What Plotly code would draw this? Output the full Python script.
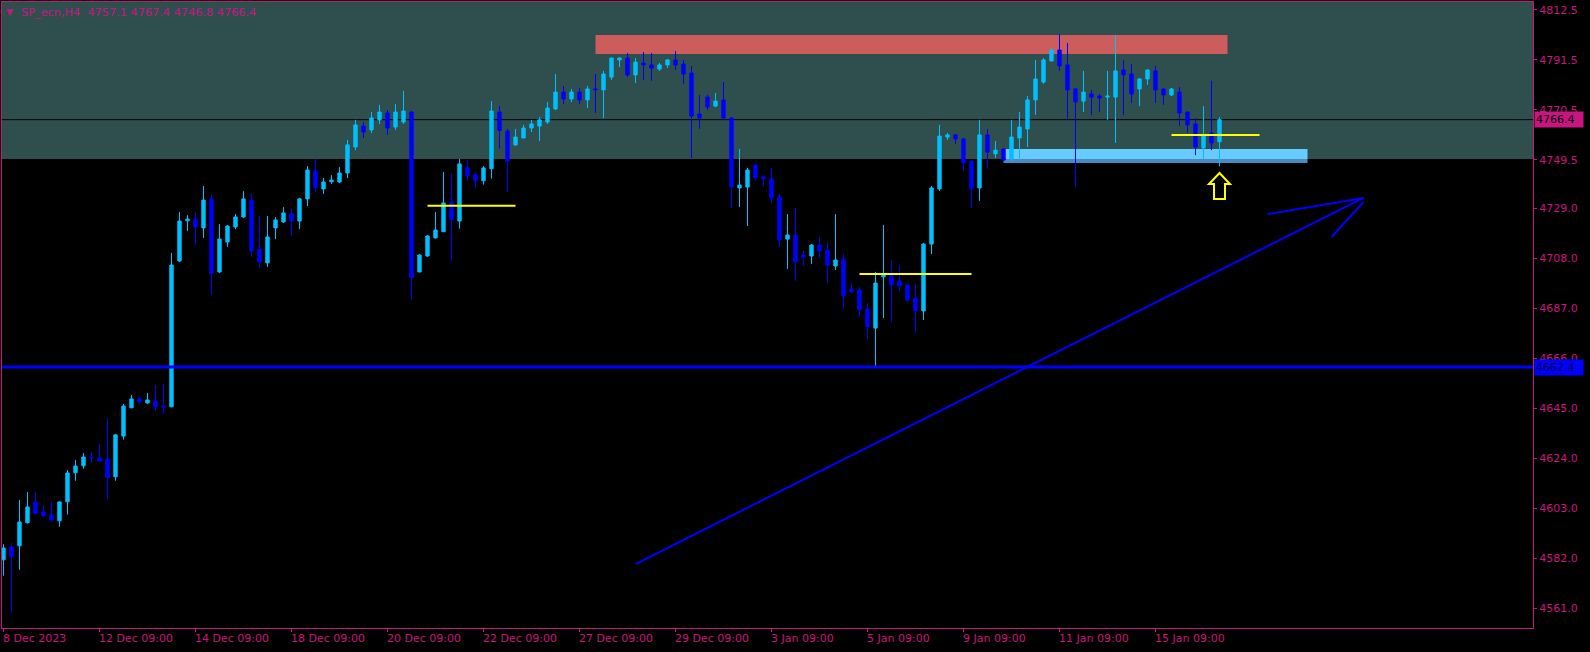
import plotly.graph_objects as go

# ---------------- data (H4 bars, index = bar number) ----------------
bars = list(range(153))

opens = [4581.4, 4586.8, 4587.3, 4597.0, 4605.7, 4601.5, 4600.2, 4597.8, 4605.8, 4618.0,
         4620.9, 4624.6, 4624.2, 4623.8, 4616.3, 4633.4, 4645.3, 4649.0, 4647.3, 4648.1,
         4646.0, 4645.7, 4707.0, 4723.9, 4724.6, 4720.9, 4733.1, 4702.4, 4715.0, 4721.3,
         4725.5, 4732.6, 4712.0, 4706.2, 4720.9, 4723.4, 4726.8, 4723.8, 4733.1, 4744.8,
         4737.3, 4740.3, 4740.2, 4744.0, 4754.9, 4763.7, 4762.1, 4766.3, 4769.2, 4763.3,
         4765.4, 4769.6, 4702.4, 4709.1, 4716.7, 4719.3, 4731.8, 4723.8, 4746.1, 4743.1,
         4740.7, 4745.8, 4769.6, 4761.6, 4755.8, 4758.7, 4762.9, 4763.7, 4765.4, 4770.9,
         4778.0, 4775.1, 4778.0, 4774.7, 4779.3, 4778.9, 4784.3, 4791.5, 4792.3, 4785.2,
         4790.2, 4789.4, 4787.7, 4789.4, 4791.5, 4789.8, 4786.0, 4768.8, 4775.9, 4772.1,
         4774.7, 4767.1, 4737.7, 4738.1, 4747.3, 4742.3, 4741.5, 4733.9, 4716.2, 4717.9,
         4709.5, 4709.1, 4713.7, 4711.6, 4704.9, 4707.8, 4695.2, 4694.8, 4686.8, 4678.8,
         4700.3, 4701.1, 4698.6, 4696.9, 4691.4, 4686.0, 4714.1, 4737.3, 4759.1, 4760.0,
         4758.3, 4749.0, 4737.7, 4760.0, 4752.0, 4754.1, 4749.9, 4758.7, 4762.5, 4774.7,
         4782.2, 4791.1, 4795.7, 4789.4, 4779.3, 4774.2, 4777.2, 4776.3, 4775.9, 4775.9,
         4787.3, 4785.6, 4779.3, 4783.5, 4786.9, 4779.3, 4776.8, 4778.0, 4769.6, 4764.6,
         4754.5, 4760.8, 4757.1]

highs = [4588.0, 4588.4, 4606.5, 4609.9, 4609.9, 4604.4, 4605.7, 4605.9, 4619.1, 4623.3,
         4626.3, 4626.7, 4630.1, 4641.0, 4634.3, 4646.9, 4650.7, 4650.2, 4651.5, 4654.9,
         4655.3, 4710.4, 4727.6, 4726.3, 4727.6, 4738.5, 4734.7, 4722.5, 4722.1, 4726.7,
         4736.4, 4735.2, 4725.9, 4725.9, 4725.5, 4729.7, 4728.9, 4733.5, 4746.9, 4749.9,
         4741.9, 4743.1, 4746.5, 4757.9, 4766.3, 4765.4, 4769.6, 4772.6, 4770.5, 4773.0,
         4778.5, 4770.0, 4709.9, 4717.9, 4727.6, 4744.4, 4743.6, 4749.9, 4749.4, 4744.4,
         4746.9, 4774.2, 4772.1, 4762.5, 4762.5, 4764.2, 4766.3, 4767.5, 4773.8, 4785.6,
         4780.6, 4779.3, 4779.7, 4780.6, 4785.6, 4786.9, 4792.4, 4792.7, 4794.4, 4792.3,
         4794.8, 4794.4, 4790.2, 4791.9, 4795.3, 4791.5, 4789.0, 4776.8, 4776.8, 4777.6,
         4782.2, 4767.5, 4754.1, 4746.1, 4747.8, 4743.1, 4746.1, 4735.2, 4726.7, 4729.3,
         4711.2, 4714.1, 4717.1, 4715.0, 4726.7, 4709.9, 4697.7, 4696.1, 4689.3, 4702.4,
         4722.1, 4707.4, 4705.3, 4697.0, 4697.3, 4714.6, 4738.5, 4764.2, 4760.8, 4760.4,
         4758.7, 4749.4, 4766.3, 4762.5, 4757.4, 4754.2, 4766.3, 4769.6, 4776.3, 4791.5,
         4792.3, 4796.5, 4802.4, 4798.6, 4779.7, 4786.9, 4778.9, 4777.2, 4786.9, 4802.0,
         4791.5, 4789.8, 4783.9, 4787.5, 4789.0, 4779.5, 4779.7, 4780.1, 4769.8, 4767.1,
         4772.1, 4782.7, 4767.4]

lows = [4574.7, 4559.0, 4577.2, 4596.6, 4600.5, 4599.1, 4597.4, 4595.3, 4600.4, 4614.6,
        4619.7, 4622.2, 4622.6, 4607.1, 4614.6, 4631.9, 4645.1, 4647.0, 4647.0, 4644.1,
        4642.8, 4645.5, 4706.6, 4719.6, 4713.7, 4716.7, 4692.7, 4701.9, 4712.9, 4720.4,
        4725.1, 4708.7, 4704.1, 4704.5, 4716.2, 4723.0, 4717.5, 4720.4, 4730.1, 4735.6,
        4735.2, 4739.4, 4739.8, 4741.9, 4753.6, 4758.7, 4760.8, 4764.6, 4760.0, 4762.1,
        4764.6, 4690.7, 4702.2, 4708.7, 4716.4, 4719.2, 4707.1, 4720.6, 4740.7, 4737.8,
        4739.1, 4741.6, 4754.2, 4736.1, 4755.3, 4758.6, 4761.2, 4757.4, 4764.6, 4770.5,
        4773.0, 4773.8, 4773.0, 4771.3, 4769.2, 4767.1, 4783.1, 4788.5, 4784.3, 4781.8,
        4783.1, 4782.7, 4786.9, 4788.1, 4787.3, 4781.4, 4750.3, 4762.5, 4770.5, 4771.7,
        4766.3, 4729.3, 4729.7, 4721.7, 4741.0, 4738.5, 4731.4, 4712.9, 4703.6, 4698.6,
        4704.9, 4705.7, 4708.3, 4697.7, 4703.2, 4686.8, 4693.5, 4683.5, 4674.2, 4662.5,
        4683.0, 4681.3, 4694.4, 4689.8, 4676.7, 4682.2, 4709.9, 4736.4, 4757.9, 4756.2,
        4744.8, 4729.3, 4732.2, 4745.7, 4750.3, 4749.2, 4749.0, 4749.4, 4754.9, 4768.4,
        4781.4, 4790.9, 4786.9, 4766.7, 4738.1, 4769.6, 4768.4, 4769.6, 4766.3, 4756.6,
        4768.4, 4773.4, 4772.1, 4781.0, 4773.4, 4772.6, 4776.3, 4763.7, 4760.8, 4751.5,
        4749.9, 4753.6, 4746.8]

closes = [4586.3, 4582.7, 4597.3, 4603.6, 4600.8, 4599.9, 4598.2, 4605.7, 4617.9, 4620.8,
          4624.6, 4624.3, 4622.9, 4615.9, 4633.9, 4646.0, 4649.0, 4647.8, 4648.6, 4645.7,
          4645.7, 4705.3, 4723.8, 4724.6, 4721.3, 4732.6, 4701.9, 4716.2, 4721.7, 4725.5,
          4733.1, 4711.2, 4706.6, 4717.1, 4724.2, 4727.2, 4723.8, 4733.1, 4745.2, 4737.8,
          4740.2, 4741.0, 4744.0, 4755.8, 4764.2, 4761.2, 4767.1, 4769.6, 4762.9, 4769.6,
          4770.0, 4700.0, 4709.5, 4717.5, 4720.0, 4731.4, 4724.3, 4747.8, 4742.8, 4740.7,
          4746.1, 4770.0, 4761.8, 4749.0, 4759.1, 4762.9, 4764.6, 4766.3, 4771.3, 4778.0,
          4775.1, 4778.0, 4774.7, 4779.3, 4779.0, 4785.6, 4792.3, 4792.3, 4785.2, 4790.6,
          4789.4, 4788.1, 4789.4, 4791.5, 4789.4, 4785.6, 4767.9, 4767.1, 4771.7, 4774.2,
          4767.1, 4738.1, 4738.9, 4745.2, 4741.9, 4741.5, 4733.5, 4715.8, 4717.9, 4706.6,
          4708.7, 4713.7, 4711.2, 4705.3, 4707.4, 4692.3, 4694.0, 4686.4, 4679.3, 4697.7,
          4701.5, 4696.9, 4696.5, 4690.6, 4686.0, 4714.1, 4737.7, 4759.5, 4760.0, 4758.3,
          4748.2, 4737.3, 4760.0, 4752.8, 4753.6, 4749.4, 4759.1, 4763.3, 4774.7, 4783.5,
          4791.5, 4795.7, 4789.0, 4778.9, 4773.8, 4778.0, 4775.9, 4775.5, 4776.3, 4786.9,
          4785.2, 4777.2, 4783.5, 4787.3, 4778.9, 4776.8, 4779.3, 4769.2, 4764.2, 4754.9,
          4760.0, 4756.6, 4766.4]

label_bars = [0, 12, 24, 36, 48, 60, 72, 84, 96, 108, 120, 132, 144]
label_texts = ["8 Dec 2023", "12 Dec 09:00", "14 Dec 09:00", "18 Dec 09:00", "20 Dec 09:00",
               "22 Dec 09:00", "27 Dec 09:00", "29 Dec 09:00", "3 Jan 09:00", "5 Jan 09:00",
               "9 Jan 09:00", "11 Jan 09:00", "15 Jan 09:00"]

price_ticks = [4812.5, 4791.5, 4770.5, 4749.5, 4729.0, 4708.0, 4687.0,
               4666.0, 4645.0, 4624.0, 4603.0, 4582.0, 4561.0]

symbol_title = "SP_ecn,H4  4757.1 4767.4 4746.8 4766.4"
bid_price = 4766.4
level_price = 4662.4

# drawn objects (bar index / price)
zone_low = 4749.9
supply_box = dict(x0=74, x1=153, y0=4794.0, y1=4802.0)
demand_box = dict(x0=125, x1=163, y0=4748.2, y1=4754.1)
yellow_levels = [(53, 64, 4730.2), (107, 121, 4701.5), (146, 157, 4760.0)]
trend_lines = [(79, 4579.6, 170, 4733.5), (158, 4726.7, 170, 4733.5), (166, 4717.1, 170, 4731.8)]
arrow_bar, arrow_price = 152, 4744.0

# ---------------- figure ----------------
MAG = "#C8157F"
FONT = "DejaVu Sans"

fig = go.Figure(go.Candlestick(
    x=bars, open=opens, high=highs, low=lows, close=closes,
    increasing=dict(line=dict(color="#00BFFF", width=1), fillcolor="#00BFFF"),
    decreasing=dict(line=dict(color="#0000FF", width=1), fillcolor="#0000FF"),
    whiskerwidth=0, hoverinfo="skip", showlegend=False))

shapes = []
# dark slate zone
shapes.append(dict(type="rect", xref="paper", x0=0, x1=1, yref="y", y0=zone_low, y1=4815.86,
                   fillcolor="#2F4F4F", line=dict(width=0), layer="below"))
# supply (red) box
shapes.append(dict(type="rect", xref="x", yref="y", **supply_box,
                   fillcolor="#CD5C5C", line=dict(width=0), layer="below"))
# demand (light blue) box, split on the zone edge
shapes.append(dict(type="rect", xref="x", yref="y", x0=demand_box["x0"], x1=demand_box["x1"],
                   y0=zone_low, y1=demand_box["y1"],
                   fillcolor="#66CCFF", line=dict(width=0), layer="below"))
shapes.append(dict(type="rect", xref="x", yref="y", x0=demand_box["x0"], x1=demand_box["x1"],
                   y0=demand_box["y0"], y1=zone_low,
                   fillcolor="#4A8AC0", line=dict(width=0), layer="below"))
# bid line
shapes.append(dict(type="line", xref="paper", x0=0, x1=1, yref="y", y0=bid_price, y1=bid_price,
                   line=dict(color="black", width=1), layer="below"))
# horizontal level
shapes.append(dict(type="line", xref="paper", x0=0, x1=1, yref="y", y0=level_price, y1=level_price,
                   line=dict(color="#0000FF", width=3), layer="above"))
for x0, x1, y in yellow_levels:
    shapes.append(dict(type="line", xref="x", yref="y", x0=x0, x1=x1, y0=y, y1=y,
                       line=dict(color="#FFFF00", width=2), layer="above"))
for x0, y0, x1, y1 in trend_lines:
    shapes.append(dict(type="line", xref="x", yref="y", x0=x0, y0=y0, x1=x1, y1=y1,
                       line=dict(color="#0000FF", width=2), layer="above"))
# up arrow (pixel sized, anchored at bar/price)
shapes.append(dict(type="path", xref="x", yref="y", xsizemode="pixel", ysizemode="pixel",
                   xanchor=arrow_bar, yanchor=arrow_price,
                   path="M 0 0 L 10.5 -11 L 5.5 -11 L 5.5 -26 L -5.5 -26 L -5.5 -11 L -10.5 -11 Z",
                   fillcolor="black", line=dict(color="#FFFF00", width=2), layer="above"))

annotations = []
for b, t in zip(label_bars, label_texts):
    annotations.append(dict(x=b, xref="x", y=0, yref="paper", text=t, showarrow=False,
                            xanchor="left", yanchor="top", xshift=-3, yshift=-2,
                            font=dict(family=FONT, size=11, color=MAG)))
annotations.append(dict(x=0, xref="paper", y=1, yref="paper", text="▼", showarrow=False,
                        xanchor="left", yanchor="top", xshift=2, yshift=-3,
                        font=dict(family=FONT, size=9, color=MAG)))
annotations.append(dict(x=0, xref="paper", y=1, yref="paper", text=symbol_title, showarrow=False,
                        xanchor="left", yanchor="top", xshift=17, yshift=-2,
                        font=dict(family=FONT, size=11.3, color=MAG)))
annotations.append(dict(x=1, xref="paper", y=bid_price, yref="y", text=f"{bid_price:.1f}",
                        showarrow=False, xanchor="left", xshift=1, bgcolor=MAG, width=46, height=13,
                        align="left", font=dict(family=FONT, size=11, color="black")))
annotations.append(dict(x=1, xref="paper", y=level_price, yref="y", text=f"{level_price:.1f}",
                        showarrow=False, xanchor="left", xshift=1, bgcolor="#0000FF", width=46, height=13,
                        align="left", font=dict(family=FONT, size=11, color="#000040")))

fig.update_layout(
    width=1590, height=652,
    margin=dict(l=2, r=57, t=2, b=24, pad=0),
    paper_bgcolor="black", plot_bgcolor="black",
    boxgap=0.4,
    showlegend=False,
    shapes=shapes, annotations=annotations,
    xaxis=dict(range=[-0.1875, 191.1875], showgrid=False, zeroline=False,
               rangeslider=dict(visible=False), showline=True, linecolor=MAG, linewidth=1,
               mirror=True, ticks="outside", ticklen=3, tickcolor=MAG,
               tickvals=label_bars, showticklabels=False, fixedrange=True),
    yaxis=dict(side="right", range=[4552.72, 4815.86], showgrid=False, zeroline=False,
               showline=True, linecolor=MAG, linewidth=1, mirror=True,
               ticks="outside", ticklen=3, tickcolor=MAG,
               tickvals=price_ticks, ticktext=[f"{v:.1f}" for v in price_ticks],
               tickfont=dict(family=FONT, size=11, color=MAG), fixedrange=True),
)

fig.write_html("out.html", config={"displayModeBar": False},
               post_script="document.body.style.margin='0px';document.body.style.background='black';document.body.style.overflow='hidden';")
